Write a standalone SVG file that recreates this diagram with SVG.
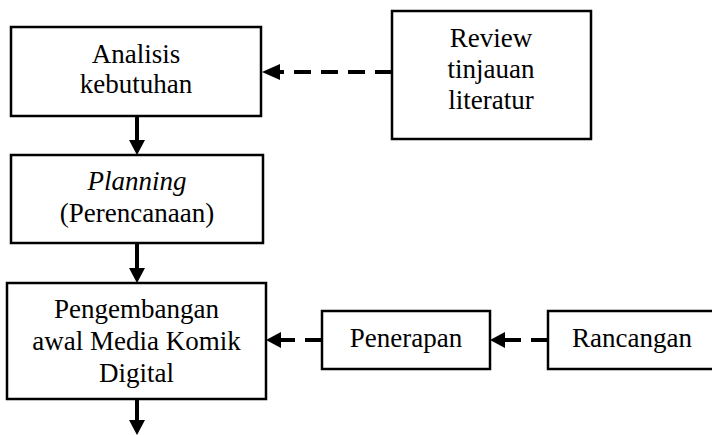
<svg xmlns="http://www.w3.org/2000/svg" width="712" height="435" viewBox="0 0 712 435">
<style>
.box{fill:#fff;stroke:#000;stroke-width:2.5}
.t{font-family:"Liberation Serif","Times New Roman",serif;font-size:27px;fill:#000;text-anchor:middle}
.solid{stroke:#000;stroke-width:4;fill:none}
.dash{stroke:#000;stroke-width:4;fill:none;stroke-dasharray:17 10}
.head{fill:#000}
</style>
<rect width="712" height="435" fill="#fff"/>
<g id="connectors">
<line class="solid" x1="137" y1="117" x2="137" y2="141"/>
<polygon class="head" points="129,140 145,140 137,155"/>
<line class="solid" x1="137" y1="244" x2="137" y2="269"/>
<polygon class="head" points="129,268 145,268 137,283"/>
<line class="solid" x1="137" y1="400" x2="137" y2="421"/>
<polygon class="head" points="129,420 145,420 137,435"/>
<line class="dash" x1="392" y1="72" x2="280" y2="72"/>
<polygon class="head" points="262,72 280,64 280,80"/>
<line class="dash" x1="322" y1="340" x2="281" y2="340"/>
<polygon class="head" points="266,340 281,332 281,348"/>
<line class="dash" x1="548" y1="340" x2="505" y2="340"/>
<polygon class="head" points="490,340 505,332 505,348"/>
</g>
<g id="analisis">
<rect class="box" x="11" y="27" width="250" height="89"/>
<text class="t" x="136" y="63">Analisis</text>
<text class="t" x="136" y="93">kebutuhan</text>
</g>
<g id="review">
<rect class="box" x="392" y="11" width="199" height="128"/>
<text class="t" x="491" y="47">Review</text>
<text class="t" x="491" y="78">tinjauan</text>
<text class="t" x="491" y="109">literatur</text>
</g>
<g id="planning">
<rect class="box" x="11" y="155" width="252" height="88"/>
<text class="t" x="137" y="190" font-style="italic">Planning</text>
<text class="t" x="137" y="222">(Perencanaan)</text>
</g>
<g id="pengembangan">
<rect class="box" x="7" y="283" width="259" height="116"/>
<text class="t" x="136.5" y="318">Pengembangan</text>
<text class="t" x="136.5" y="350">awal Media Komik</text>
<text class="t" x="136.5" y="382">Digital</text>
</g>
<g id="penerapan">
<rect class="box" x="322" y="311" width="168" height="58"/>
<text class="t" x="406" y="347">Penerapan</text>
</g>
<g id="rancangan">
<rect class="box" x="548" y="311" width="172" height="58"/>
<text class="t" x="632" y="347">Rancangan</text>
</g>
</svg>
